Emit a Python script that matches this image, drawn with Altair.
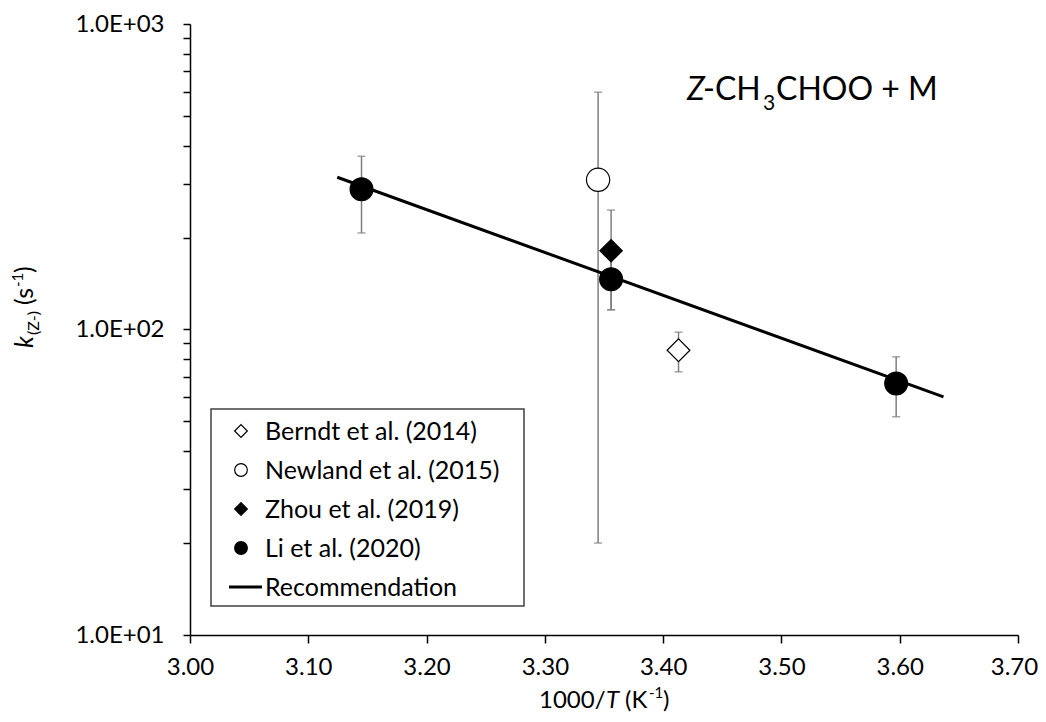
import altair as alt
import pandas as pd

FONT = "Lato"

# ---- data ----
berndt_x = [3.413]
berndt_k = [85.5]
berndt_lo = [72.7]
berndt_hi = [98.0]

newland_x = [3.345]
newland_k = [309.0]
newland_lo = [20.0]
newland_hi = [598.0]

zhou_x = [3.356]
zhou_k = [181.0]
zhou_lo = [116.0]
zhou_hi = [246.0]

li_x = [3.145, 3.356, 3.597]
li_k = [288.0, 146.0, 66.6]
li_lo = [207.0, 116.0, 51.8]
li_hi = [369.0, 178.0, 81.4]

rec_x = [3.1245, 3.637]
rec_k = [315.0, 60.2]

x_ticks = [3.0, 3.1, 3.2, 3.3, 3.4, 3.5, 3.6, 3.7]
y_ticks = [10, 20, 30, 40, 50, 60, 70, 80, 90, 100, 200, 300, 400, 500, 600, 700, 800, 900, 1000]

legend_labels = ["Berndt et al. (2014)", "Newland et al. (2015)", "Zhou et al. (2019)",
                 "Li et al. (2020)", "Recommendation"]

# ---- tables ----
def frame(name, xs, ks, lo, hi):
    return pd.DataFrame({"series": name, "x": xs, "k": ks, "lo": lo, "hi": hi})

berndt = frame("Berndt", berndt_x, berndt_k, berndt_lo, berndt_hi)
newland = frame("Newland", newland_x, newland_k, newland_lo, newland_hi)
zhou = frame("Zhou", zhou_x, zhou_k, zhou_lo, zhou_hi)
li = frame("Li", li_x, li_k, li_lo, li_hi)
pts = pd.concat([berndt, newland, zhou, li], ignore_index=True)
rec = pd.DataFrame({"x": rec_x, "k": rec_k})

W, H = 828, 611
OX, OY = 190, 24  # page position of the plot origin

xscale = alt.Scale(domain=[3.0, 3.7], nice=False, zero=False)
yscale = alt.Scale(type="log", domain=[10, 1000], nice=False)

x_axis = alt.Axis(values=x_ticks, format=".2f", title=None, grid=False,
                  domainColor="black", domainWidth=1.5, tickColor="black", tickWidth=1.5,
                  tickSize=8, labelFontSize=24, labelFont=FONT, labelColor="black",
                  labelPadding=12, labelFlush=False,
                  labelOffset={"condition": {"test": "datum.value > 3.69", "value": -4}, "value": 0})
y_axis = alt.Axis(values=y_ticks, title=None, grid=False,
                  labelExpr="(abs(log(datum.value)/LN10 - round(log(datum.value)/LN10)) < 1e-6) ? '1.0E+0' + round(log(datum.value)/LN10) : ''",
                  domainColor="black", domainWidth=1.5, tickColor="black", tickWidth=1.5,
                  tickSize=7, labelFontSize=24, labelFont=FONT, labelColor="black",
                  labelPadding=19, labelFlush=False)

X = alt.X("x:Q", scale=xscale, axis=x_axis)
Y = alt.Y("k:Q", scale=yscale, axis=y_axis)

ERR = "#7f7f7f"
bars = alt.Chart(pts).mark_rule(color=ERR, strokeWidth=1.5).encode(
    x=alt.X("x:Q", scale=xscale), y=alt.Y("lo:Q", scale=yscale), y2="hi:Q")
cap_lo = alt.Chart(pts).mark_tick(color=ERR, orient="horizontal", size=8, thickness=1.5).encode(
    x=alt.X("x:Q", scale=xscale), y=alt.Y("lo:Q", scale=yscale))
cap_hi = alt.Chart(pts).mark_tick(color=ERR, orient="horizontal", size=8, thickness=1.5).encode(
    x=alt.X("x:Q", scale=xscale), y=alt.Y("hi:Q", scale=yscale))

line = alt.Chart(rec).mark_line(color="black", strokeWidth=3).encode(x=X, y=Y)

def pt(df, shape, filled, size):
    return alt.Chart(df).mark_point(shape=shape, filled=True, size=size,
                                    fill="black" if filled else "white",
                                    stroke="black", strokeWidth=1.2, opacity=1).encode(
        x=alt.X("x:Q", scale=xscale), y=alt.Y("k:Q", scale=yscale))

p_berndt = pt(berndt, "diamond", False, 520)
p_newland = pt(newland, "circle", False, 540)
p_zhou = pt(zhou, "diamond", True, 500)
p_li = pt(li, "circle", True, 520)

one = pd.DataFrame({"a": [0]})

def txt(s, px, py, size, italic=False, angle=0, align="left", baseline="alphabetic"):
    kw = dict(text=s, font=FONT, fontSize=size, color="black", align=align, baseline=baseline)
    if italic:
        kw["fontStyle"] = "italic"
    if angle:
        kw["angle"] = angle
    return alt.Chart(one).mark_text(**kw).encode(x=alt.value(px - OX), y=alt.value(py - OY))

# legend box
leg_box = alt.Chart(one).mark_rect(fill="white", stroke="#404040", strokeWidth=1.5).encode(
    x=alt.value(211 - OX), x2=alt.value(524 - OX), y=alt.value(409 - OY), y2=alt.value(606 - OY))

legend_layers = [leg_box]
styles = [("diamond", False), ("circle", False), ("diamond", True), ("circle", True), (None, None)]
for i, (lab, (shape, filled)) in enumerate(zip(legend_labels, styles)):
    cy = 431 + i * 39
    if shape is None:
        legend_layers.append(alt.Chart(one).mark_rule(color="black", strokeWidth=3).encode(
            x=alt.value(229 - OX), x2=alt.value(262 - OX), y=alt.value(cy - OY)))
    else:
        legend_layers.append(alt.Chart(one).mark_point(
            shape=shape, filled=True, size=160,
            fill="black" if filled else "white", stroke="black", strokeWidth=1.2, opacity=1).encode(
            x=alt.value(241 - OX), y=alt.value(cy - OY)))
    legend_layers.append(txt(lab, 265, cy + 1, 25, baseline="middle"))

# annotation Z-CH3CHOO + M
ann = [
    txt("Z", 687, 100, 32, italic=True),
    txt("-CH", 703, 100, 32),
    txt("3", 763, 110, 21),
    txt("CHOO + M", 776, 100, 32),
]

# x title: 1000/T (K-1)
xt = [
    txt("1000/", 539, 708, 24),
    txt("T", 606, 708, 24, italic=True),
    txt("(K", 625, 708, 24),
    txt("-1", 649, 698, 15),
    txt(")", 663, 708, 24),
]

# y title: k(Z-) (s-1), rotated
yt = [
    txt("k", 33, 348, 25, italic=True, angle=270),
    txt("(Z-)", 39, 335, 16, angle=270),
    txt("(s", 33, 305, 25, angle=270),
    txt("-1", 23, 287, 15, angle=270),
    txt(")", 33, 273, 25, angle=270),
]

chart = alt.layer(bars, cap_lo, cap_hi, line, p_berndt, p_newland, p_zhou, p_li,
                  *legend_layers, *ann, *xt, *yt).properties(
    width=W, height=H,
    autosize=alt.AutoSizeParams(type="none"),
    padding={"left": OX - 8, "top": OY - 8, "right": 20, "bottom": 80},
    background="white",
).configure_view(stroke=None)

chart.save("out.html", embed_options={"renderer": "svg", "actions": False})
